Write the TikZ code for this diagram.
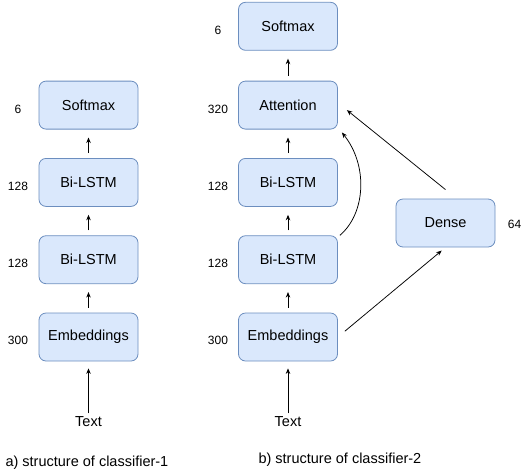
\documentclass[tikz,border=0pt]{standalone}
\usepackage{fontspec}
\setmainfont{Liberation Sans}
\usetikzlibrary{arrows.meta, positioning}

\definecolor{blockfill}{HTML}{DAE8FC}
\definecolor{blockline}{HTML}{6C8EBF}

\tikzset{
    block/.style = {draw=blockline, fill=blockfill, line width=0.8pt, rounded corners=7pt,
                    minimum width=99pt, minimum height=48pt, font=\fontsize{14.5}{17}\selectfont},
    dim/.style   = {font=\fontsize{12}{14}\selectfont},
    word/.style  = {font=\fontsize{14.5}{17}\selectfont},
    arr/.style   = {-{Stealth[length=5.5pt,width=4.5pt]}, line width=0.75pt},
    hop/.style   = {arr, shorten <=5pt, shorten >=8pt}
}

\begin{document}
\begin{tikzpicture}[x=1pt, y=-1pt, node distance=28.5pt]
                \useasboundingbox (0,0) rectangle (521,472);

                % classifier-1
                \node (emb1) [block] at (88.5,337) {Embeddings};
                \node (lstm1a) [block, above=of emb1] {Bi-LSTM};
                \node (lstm1b) [block, above=of lstm1a] {Bi-LSTM};
                \node (soft1) [block, above=of lstm1b] {Softmax};
                \node (text1) [word] at (88.5,422) {Text};

                \node (d1a) [dim] at (18,340) {300};
                \node (d1b) [dim] at (18,263) {128};
                \node (d1c) [dim] at (18,186) {128};
                \node (d1d) [dim] at (18,109) {6};

                % classifier-2
                \node (emb2) [block] at (288,337) {Embeddings};
                \node (lstm2a) [block, above=of emb2] {Bi-LSTM};
                \node (lstm2b) [block, above=of lstm2a] {Bi-LSTM};
                \node (att2) [block, above=of lstm2b] {Attention};
                \node (soft2) [block, above=30pt of att2] {Softmax};
                \node (dense2) [block] at (445.5,223) {Dense};
                \node (text2) [word] at (288,422) {Text};

                \node (d2a) [dim] at (218,340) {300};
                \node (d2b) [dim] at (218,263) {128};
                \node (d2c) [dim] at (218,186) {128};
                \node (d2d) [dim] at (218,109) {320};
                \node (d2e) [dim] at (218,30) {6};
                \node (d2f) [dim] at (514.5,224) {64};

                \node (cap1) [word, anchor=west] at (2,463) {a) structure of classifier-1};
                \node (cap2) [word, anchor=west] at (255,460) {b) structure of classifier-2};

                \path [hop]
                    (emb1) edge (lstm1a)
                    (lstm1a) edge (lstm1b)
                    (lstm1b) edge (soft1)
                    (emb2) edge (lstm2a)
                    (lstm2a) edge (lstm2b)
                    (lstm2b) edge (att2)
                    (att2) edge (soft2);

                \path [arr, shorten >=7pt]
                    (text1) edge (emb1)
                    (text2) edge (emb2);

                \draw [arr, shorten <=9pt, shorten >=5pt] (emb2.east) -- (dense2.south);
                \draw [arr] ([yshift=9pt]dense2.north) -- ([xshift=9pt,yshift=-5pt]att2.east);
                \draw [arr] ([xshift=2pt]lstm2a.north east)
                    .. controls (366,213) and (368,165) .. ([xshift=4pt,yshift=-3pt]att2.south east);
\end{tikzpicture}
\end{document}
